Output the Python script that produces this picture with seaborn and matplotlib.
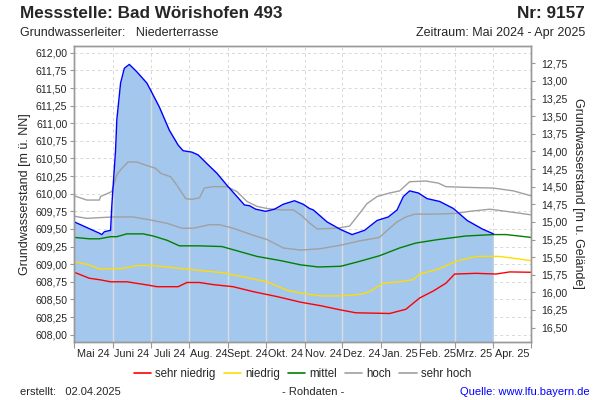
import numpy as np
import pandas as pd
import matplotlib
matplotlib.use("Agg")
import matplotlib.pyplot as plt
import matplotlib.dates as mdates
from matplotlib.ticker import FuncFormatter, FixedLocator
from matplotlib.lines import Line2D
import seaborn as sns

# Messwerte Grundwasserstand [m ü. NN]
mess_datum = ["2024-05-01", "2024-05-11", "2024-05-21", "2024-05-23", "2024-05-25", "2024-05-30",
              "2024-05-31", "2024-06-03", "2024-06-04", "2024-06-07", "2024-06-10", "2024-06-14",
              "2024-06-20", "2024-06-28", "2024-07-01", "2024-07-08", "2024-07-16", "2024-07-23",
              "2024-07-27", "2024-08-03", "2024-08-08", "2024-08-16", "2024-08-23", "2024-08-31",
              "2024-09-08", "2024-09-14", "2024-09-18", "2024-09-23", "2024-10-01", "2024-10-08",
              "2024-10-15", "2024-10-24", "2024-10-31", "2024-11-05", "2024-11-08", "2024-11-19",
              "2024-11-30", "2024-12-09", "2024-12-19", "2024-12-29", "2025-01-07", "2025-01-14",
              "2025-01-19", "2025-01-24", "2025-01-31", "2025-02-07", "2025-02-17", "2025-02-28",
              "2025-03-11", "2025-03-23", "2025-04-01"]
mess_wert = [609.60, 609.52, 609.44, 609.42, 609.46, 609.48,
             609.83, 610.62, 611.05, 611.57, 611.78, 611.835,
             611.73, 611.57, 611.47, 611.23, 610.90, 610.69,
             610.61, 610.59, 610.55, 610.41, 610.29, 610.12,
             609.96, 609.84, 609.83, 609.78, 609.75, 609.78,
             609.85, 609.90, 609.85, 609.79, 609.77, 609.60,
             609.49, 609.42, 609.48, 609.62, 609.67, 609.77,
             609.96, 610.04, 610.01, 609.93, 609.89, 609.79,
             609.62, 609.50, 609.43]

# Statistische Kennlinien
sehr_hoch_datum = ["2024-05-01", "2024-05-11", "2024-05-21", "2024-05-22", "2024-05-31", "2024-06-04",
                   "2024-06-08", "2024-06-13", "2024-06-20", "2024-06-28", "2024-07-05", "2024-07-09",
                   "2024-07-17", "2024-07-22", "2024-07-29", "2024-08-03", "2024-08-09", "2024-08-13",
                   "2024-08-20", "2024-08-31", "2024-09-08", "2024-09-16", "2024-09-24", "2024-10-02",
                   "2024-10-13", "2024-10-23", "2024-10-29", "2024-11-04", "2024-11-11", "2024-11-27",
                   "2024-12-07", "2024-12-15", "2024-12-21", "2024-12-29", "2025-01-08", "2025-01-16",
                   "2025-01-24", "2025-02-06", "2025-02-16", "2025-02-22", "2025-03-10", "2025-04-01",
                   "2025-04-17", "2025-05-01"]
sehr_hoch = [609.97, 609.91, 609.91, 609.96, 610.03, 610.27,
             610.36, 610.45, 610.45, 610.40, 610.36, 610.29,
             610.24, 610.12, 609.93, 609.92, 609.94, 610.08,
             610.10, 610.10, 610.03, 609.89, 609.82, 609.79,
             609.77, 609.77, 609.70, 609.60, 609.50, 609.51,
             609.54, 609.72, 609.86, 609.96, 610.01, 610.04,
             610.17, 610.18, 610.15, 610.10, 610.09, 610.08,
             610.04, 609.97]

hoch_datum = ["2024-05-01", "2024-05-11", "2024-05-21", "2024-06-01", "2024-06-17", "2024-06-30",
              "2024-07-14", "2024-07-26", "2024-08-04", "2024-08-17", "2024-08-25", "2024-09-05",
              "2024-09-21", "2024-10-02", "2024-10-15", "2024-10-29", "2024-11-14", "2024-11-30",
              "2024-12-15", "2024-12-31", "2025-01-08", "2025-01-14", "2025-01-21", "2025-01-28",
              "2025-02-12", "2025-03-02", "2025-03-13", "2025-03-29", "2025-04-11", "2025-05-01"]
hoch = [609.68, 609.65, 609.66, 609.67, 609.67, 609.63,
        609.58, 609.51, 609.51, 609.56, 609.56, 609.51,
        609.41, 609.35, 609.23, 609.20, 609.22, 609.27,
        609.33, 609.38, 609.51, 609.60, 609.67, 609.71,
        609.71, 609.72, 609.75, 609.78, 609.75, 609.70]

mittel_datum = ["2024-05-01", "2024-05-13", "2024-05-21", "2024-05-30", "2024-06-04", "2024-06-12",
                "2024-06-25", "2024-07-03", "2024-07-14", "2024-07-24", "2024-08-09", "2024-08-27",
                "2024-09-10", "2024-09-24", "2024-10-13", "2024-10-29", "2024-11-12", "2024-11-30",
                "2024-12-15", "2024-12-31", "2025-01-16", "2025-01-29", "2025-02-16", "2025-03-10",
                "2025-04-01", "2025-04-11", "2025-05-01"]
mittel = [609.38, 609.36, 609.36, 609.39, 609.39, 609.43,
          609.43, 609.40, 609.34, 609.26, 609.26, 609.25,
          609.18, 609.11, 609.05, 608.99, 608.96, 608.97,
          609.04, 609.12, 609.23, 609.30, 609.35, 609.40,
          609.42, 609.42, 609.38]

niedrig_datum = ["2024-05-01", "2024-05-13", "2024-05-21", "2024-06-09", "2024-06-20", "2024-07-03",
                 "2024-07-14", "2024-07-30", "2024-08-15", "2024-08-27", "2024-09-13", "2024-10-02",
                 "2024-10-18", "2024-10-29", "2024-11-14", "2024-11-30", "2024-12-15", "2024-12-23",
                 "2025-01-03", "2025-01-16", "2025-01-27", "2025-02-01", "2025-02-16", "2025-03-02",
                 "2025-03-18", "2025-04-06", "2025-05-01"]
niedrig = [609.035, 608.99, 608.93, 608.94, 608.98, 608.98,
           608.96, 608.93, 608.90, 608.88, 608.82, 608.75,
           608.63, 608.59, 608.55, 608.55, 608.57, 608.61,
           608.73, 608.75, 608.78, 608.86, 608.93, 609.04,
           609.11, 609.11, 609.05]

sehr_niedrig_datum = ["2024-05-01", "2024-05-13", "2024-05-21", "2024-05-30", "2024-06-12", "2024-06-30",
                      "2024-07-06", "2024-07-23", "2024-07-30", "2024-08-09", "2024-08-20", "2024-09-05",
                      "2024-09-21", "2024-10-10", "2024-10-29", "2024-11-14", "2024-11-30", "2024-12-12",
                      "2025-01-08", "2025-01-21", "2025-02-01", "2025-02-12", "2025-02-22", "2025-03-01",
                      "2025-03-18", "2025-04-03", "2025-04-14", "2025-05-01"]
sehr_niedrig = [608.885, 608.80, 608.78, 608.75, 608.75, 608.70,
                608.68, 608.68, 608.74, 608.74, 608.71, 608.68,
                608.61, 608.54, 608.46, 608.41, 608.35, 608.31,
                608.30, 608.36, 608.52, 608.62, 608.73, 608.86,
                608.87, 608.86, 608.89, 608.885]

monat_labels = ["Mai 24", "Juni 24", "Juli 24", "Aug. 24", "Sept. 24", "Okt. 24",
                "Nov. 24", "Dez. 24", "Jan. 25", "Feb. 25", "Mrz. 25", "Apr. 25"]

gelaende = 624.60  # Geländehöhe [m ü. NN]

sns.set_theme(style="white")
plt.rcParams["font.family"] = ["Liberation Sans", "DejaVu Sans"]

fig = plt.figure(figsize=(6, 4), dpi=100)
ax = fig.add_axes([0.1238, 0.1458, 0.7612, 0.739])

start = pd.Timestamp("2024-05-01")
ende = pd.Timestamp("2025-05-01")
monate = pd.date_range(start, ende, freq="MS")
ax.set_xlim(start, ende)
ax.set_ylim(607.90, 612.095)

# Gitter
for y in np.arange(608.0, 612.01, 0.25):
    ax.axhline(y, color="#d8d8d8", lw=0.7, ls=(0, (3, 3)), zorder=0)
for m in monate[1:-1]:
    ax.axvline(m, color="#d8d8d8", lw=0.7, ls=(0, (3, 3)), zorder=0)

df_mess = pd.DataFrame({"datum": pd.to_datetime(mess_datum), "wert": mess_wert})
flaeche = ax.fill_between(df_mess["datum"], 607.0, df_mess["wert"], color="#a4c7ed", lw=0, zorder=1)

# helle Monatslinien innerhalb der Fläche
for m in monate[1:-1]:
    ln = ax.axvline(m, color="#dcdcdc", lw=1.0, zorder=1.5)
    ln.set_clip_path(flaeche.get_paths()[0], flaeche.get_transform())

kennlinien = [
    ("sehr niedrig", sehr_niedrig_datum, sehr_niedrig, "#ff0000"),
    ("niedrig", niedrig_datum, niedrig, "#ffdd00"),
    ("mittel", mittel_datum, mittel, "#008000"),
    ("hoch", hoch_datum, hoch, "#a0a0a0"),
    ("sehr hoch", sehr_hoch_datum, sehr_hoch, "#a0a0a0"),
]
for name, d, w, c in kennlinien:
    df = pd.DataFrame({"datum": pd.to_datetime(d), "wert": w})
    sns.lineplot(data=df, x="datum", y="wert", color=c, lw=1.0, ax=ax, zorder=2)

sns.lineplot(data=df_mess, x="datum", y="wert", color="#0000ff", lw=1.0, ax=ax, zorder=3)

# x-Achse: Striche an Monatsgrenzen, Beschriftung in Monatsmitte
ax.xaxis.set_major_locator(FixedLocator(mdates.date2num(monate)))
ax.xaxis.set_major_formatter(FuncFormatter(lambda v, p: ""))
mitten = [mdates.date2num(a) + (mdates.date2num(b) - mdates.date2num(a)) / 2
          for a, b in zip(monate[:-1], monate[1:])]
ax.set_xticks(mitten, minor=True)
ax.set_xticklabels(monat_labels, minor=True)
ax.tick_params(axis="x", which="major", length=4, width=0.8, color="#999999", bottom=True)
ax.tick_params(axis="x", which="minor", length=0, labelsize=7.8, pad=5, bottom=True)

komma = FuncFormatter(lambda v, p: f"{v:.2f}".replace(".", ","))
ax.set_yticks(np.arange(608.0, 612.01, 0.25))
ax.yaxis.set_major_formatter(komma)
ax.tick_params(axis="y", length=3, width=0.8, color="#999999", labelsize=7.6, pad=2, left=True)
ax.set_xlabel("")
ax.set_ylabel("Grundwasserstand [m ü. NN]", fontsize=9, labelpad=3)

ax2 = ax.twinx()
ax2.set_ylim(gelaende - 607.90, gelaende - 612.095)
ax2.set_yticks(np.arange(12.75, 16.51, 0.25))
ax2.yaxis.set_major_formatter(komma)
ax2.tick_params(axis="y", length=3, width=0.8, color="#999999", labelsize=7.6, pad=4, right=True)
ax2.set_ylabel("Grundwasserstand [m u. Gelände]", fontsize=9, rotation=-90, labelpad=12)

for a in (ax, ax2):
    for s in a.spines.values():
        s.set_color("#999999")
        s.set_linewidth(1.0)

# Legende
handles = [Line2D([0], [0], color=c, lw=1.2) for _, _, _, c in kennlinien]
fig.legend(handles, [k[0] for k in kennlinien], loc="center", bbox_to_anchor=(0.504, 0.066),
           ncol=5, frameon=False, fontsize=8.3, handlelength=1.5, columnspacing=0.7, handletextpad=0.35)

# Kopf und Fuß
fig.text(20 / 600, 1 - 14 / 400, "Messstelle: Bad Wörishofen 493", fontsize=12.3, weight="bold", va="center")
fig.text(585 / 600, 1 - 14 / 400, "Nr: 9157", fontsize=12.3, weight="bold", va="center", ha="right")
fig.text(20 / 600, 1 - 33 / 400, "Grundwasserleiter:   Niederterrasse", fontsize=9, va="center")
fig.text(585 / 600, 1 - 33 / 400, "Zeitraum: Mai 2024 - Apr 2025", fontsize=9, va="center", ha="right")
fig.text(20 / 600, 1 - 392 / 400, "erstellt:   02.04.2025", fontsize=8, va="center")
fig.text(313 / 600, 1 - 392 / 400, "- Rohdaten -", fontsize=8, va="center", ha="center")
fig.text(590 / 600, 1 - 392 / 400, "Quelle: www.lfu.bayern.de", fontsize=8, va="center", ha="right", color="#0000ff")

fig.savefig("out.png", dpi=100)
